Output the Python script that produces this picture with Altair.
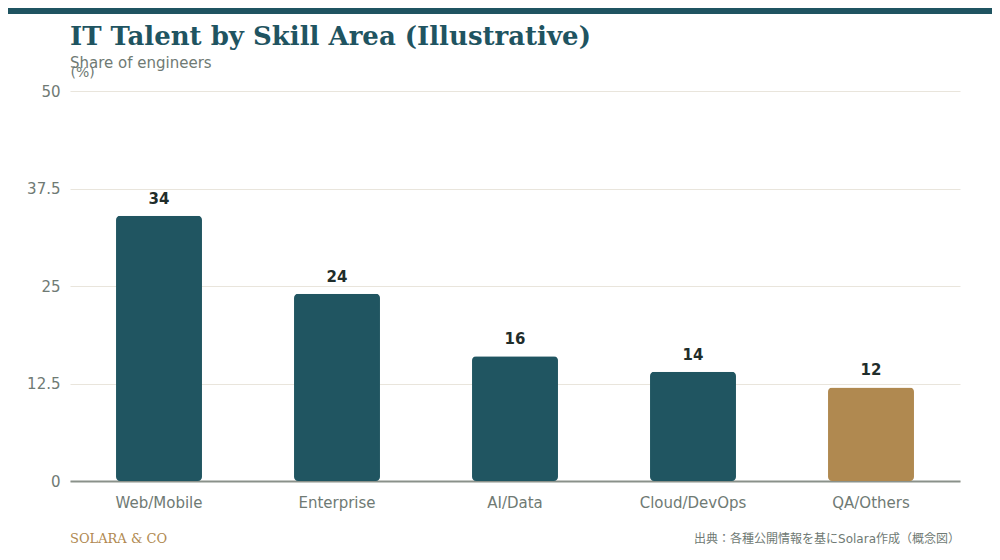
import altair as alt
import pandas as pd

categories = ["Web/Mobile", "Enterprise", "AI/Data", "Cloud/DevOps", "QA/Others"]
values = [34, 24, 16, 14, 12]
highlight = [False, False, False, False, True]
y_ticks = [0, 12.5, 25, 37.5, 50]

TEAL = "#205561"
GOLD = "#b08950"
GRAY = "#6f7a74"

df = pd.DataFrame({"cat": categories, "val": values, "hl": highlight})

x = alt.X("cat:N", sort=categories, title=None,
          scale=alt.Scale(paddingInner=0.517, paddingOuter=0.2585),
          axis=alt.Axis(labelAngle=0, labelFontSize=15, labelColor=GRAY,
                        labelFont="DejaVu Sans", labelPadding=14, ticks=False,
                        domain=True, domainColor="#8a918a", domainWidth=2,
                        grid=False))
y = alt.Y("val:Q", title="(%)",
          scale=alt.Scale(domain=[0, 50], nice=False),
          axis=alt.Axis(values=y_ticks, format=".3~g", labelFontSize=15, labelColor=GRAY,
                        labelFont="DejaVu Sans", labelPadding=10, ticks=False,
                        domain=False, gridColor="#e9e5dc", gridWidth=1,
                        titleAngle=0, titleX=0, titleY=-15, titleAlign="left",
                        titleBaseline="alphabetic",
                        titleFontSize=14, titleFontWeight="normal",
                        titleColor=GRAY, titleFont="DejaVu Sans"))

bars = alt.Chart(df).mark_bar(cornerRadius=4).encode(
    x=x, y=y,
    color=alt.Color("hl:N", scale=alt.Scale(domain=[False, True], range=[TEAL, GOLD]), legend=None),
)

labels = alt.Chart(df).mark_text(
    baseline="bottom", dy=-9, fontSize=15, fontWeight="bold",
    font="DejaVu Sans", color="#1f2d2b"
).encode(x=alt.X("cat:N", sort=categories), y="val:Q", text="val:Q")

one = pd.DataFrame({"k": [0]})

strip = alt.Chart(one).mark_rule(color="#1f5461", strokeWidth=6).encode(
    x=alt.value(-62), x2=alt.value(922), y=alt.value(-80))

title = alt.Chart(one).mark_text(
    text="IT Talent by Skill Area (Illustrative)", align="left", baseline="alphabetic",
    font="DejaVu Serif", fontWeight="bold", fontSize=26, color="#1f5461"
).encode(x=alt.value(0), y=alt.value(-46))

subtitle = alt.Chart(one).mark_text(
    text="Share of engineers", align="left", baseline="alphabetic",
    font="DejaVu Sans", fontSize=15, color=GRAY
).encode(x=alt.value(0), y=alt.value(-23))

brand = alt.Chart(one).mark_text(
    text="SOLARA & CO", align="left", baseline="alphabetic",
    font="DejaVu Serif", fontSize=13, color=GOLD
).encode(x=alt.value(0), y=alt.value(452))

source = alt.Chart(one).mark_text(
    text="出典：各種公開情報を基にSolara作成（概念図）", align="right", baseline="alphabetic",
    font="DejaVu Sans, Noto Sans CJK JP", fontSize=12, color=GRAY
).encode(x=alt.value(890), y=alt.value(452))

chart = alt.layer(bars, labels, strip, title, subtitle, brand, source).properties(
    width=890, height=390,
    autosize=alt.AutoSizeParams(type="none"),
    padding={"left": 62, "top": 83, "right": 32, "bottom": 71},
    background="white",
).configure_view(stroke=None)

chart.save("out.html", embed_options={"renderer": "svg", "actions": False})
